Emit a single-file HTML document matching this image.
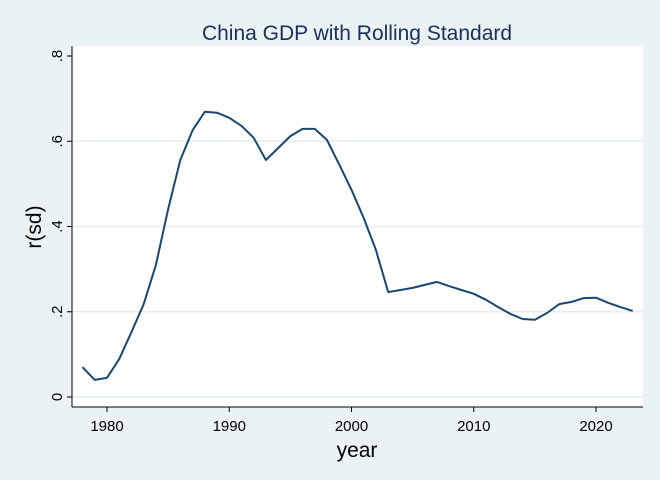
<!DOCTYPE html>
<html><head><meta charset="utf-8"><style>
body{margin:0;background:#eaf2f3;}
svg{display:block;font-family:"Liberation Sans",sans-serif;}
</style></head><body>
<svg id="chart" width="660" height="480" viewBox="0 0 660 480">
<rect x="0" y="0" width="660" height="480" fill="#eaf2f3"/>
<rect x="72" y="46" width="571" height="361" fill="#fff"/>
<text x="357" y="40" text-anchor="middle" font-size="21" fill="#1a2f5a">China GDP with Rolling Standard</text>
<text transform="translate(41,227) rotate(-90)" text-anchor="middle" font-size="21" fill="#000">r(sd)</text>
<text x="357" y="457" text-anchor="middle" font-size="21" fill="#000">year</text>
<g id="grid"></g><g id="axes"></g><g id="series"></g>
</svg>
<script>
const years=[1978,1979,1980,1981,1982,1983,1984,1985,1986,1987,1988,1989,1990,1991,1992,1993,1994,1995,1996,1997,1998,1999,2000,2001,2002,2003,2004,2005,2006,2007,2008,2009,2010,2011,2012,2013,2014,2015,2016,2017,2018,2019,2020,2021,2022,2023];
const values=[0.070,0.040,0.045,0.089,0.152,0.218,0.31,0.44,0.556,0.626,0.669,0.667,0.655,0.636,0.608,0.556,0.584,0.612,0.629,0.629,0.603,0.545,0.486,0.42,0.345,0.246,0.251,0.256,0.263,0.270,0.260,0.251,0.242,0.228,0.211,0.195,0.183,0.181,0.197,0.218,0.223,0.232,0.233,0.221,0.211,0.202];
const yTicks=[0,0.2,0.4,0.6,0.8];
const yTickLabels=["0",".2",".4",".6",".8"];
const xTicks=[1980,1990,2000,2010,2020];
const NS="http://www.w3.org/2000/svg";
const sx=v=>107+(v-1980)*12.225;
const sy=v=>397-v*426.25;
function mk(tag,attrs,parent,text){const e=document.createElementNS(NS,tag);for(const k in attrs)e.setAttribute(k,attrs[k]);if(text!==undefined)e.textContent=text;parent.appendChild(e);return e;}
const grid=document.getElementById('grid'),axes=document.getElementById('axes'),series=document.getElementById('series');
yTicks.forEach((t,i)=>{
  if(t<0.8){const g=mk('line',{x1:72,x2:643,y1:sy(t),y2:sy(t),stroke:'#e4eef0','stroke-width':1.5},grid);
  
  }
  const tk=mk('line',{x1:67,x2:72,y1:sy(t),y2:sy(t),stroke:'#000','stroke-width':1},axes);
  
  
  const lb=mk('text',{transform:`translate(62,${sy(t)}) rotate(-90)`,'text-anchor':'middle','font-size':15,fill:'#000'},axes,yTickLabels[i]);
  
  
});
xTicks.forEach(t=>{
  const tk=mk('line',{x1:sx(t),x2:sx(t),y1:407,y2:412,stroke:'#000','stroke-width':1},axes);
  
  
  const lb=mk('text',{x:sx(t),y:431,'text-anchor':'middle','font-size':15,fill:'#000'},axes,String(t));
  
  
});
const ya=mk('line',{x1:72,x2:72,y1:46,y2:407,stroke:'#000','stroke-width':1},axes);


const xa=mk('line',{x1:72,x2:643,y1:407,y2:407,stroke:'#000','stroke-width':1},axes);


const pts=years.map((y,i)=>sx(y).toFixed(1)+','+sy(values[i]).toFixed(1)).join(' ');
const pl=mk('polyline',{points:pts,fill:'none',stroke:'#1a476f','stroke-width':2,'stroke-linejoin':'round'},series);


</script>
</body></html>
